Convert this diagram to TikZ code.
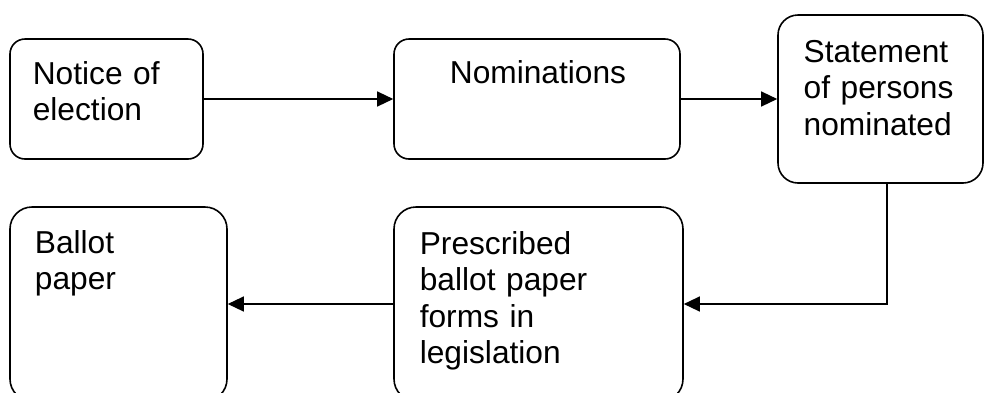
\documentclass[tikz,border=0pt]{standalone}
\usepackage{fontspec}
\setmainfont{Liberation Sans}
\usetikzlibrary{arrows.meta}
\tikzset{
  box/.style={draw, line width=1.6pt, rectangle, inner sep=0pt},
  lbl/.style={inner sep=0pt, text width=260pt, align=left, anchor=base west,
    font=\fontsize{31.7pt}{36.5pt}\selectfont},
  arr/.style={line width=1.3pt, -{Triangle[length=16pt, width=15pt]}}
}
\begin{document}
\begin{tikzpicture}[x=1pt, y=-1pt]
\useasboundingbox (0,0) rectangle (984,392);
% boxes
\node[box, rounded corners=15pt, minimum width=193pt, minimum height=120pt] (n1) at (106.5,99) {};
\node[box, rounded corners=15pt, minimum width=286pt, minimum height=120pt] (n2) at (537,99) {};
\node[box, rounded corners=20pt, minimum width=205pt, minimum height=168pt] (n3) at (880.5,99) {};
\node[box, rounded corners=22pt, minimum width=217pt, minimum height=194pt] (n4) at (118.5,304) {};
\node[box, rounded corners=22pt, minimum width=289pt, minimum height=194pt] (n5) at (538.5,304) {};
% texts
\node[lbl] (t1) at (32.6,84) {Notice of\\election};
\node[lbl, align=center, anchor=base] (t2) at (538,83) {Nominations};
\node[lbl] (t3) at (803.5,62) {Statement\\of persons\\nominated};
\node[lbl] (t4) at (34.7,253) {Ballot\\paper};
\node[lbl] (t5) at (419.6,254) {Prescribed\\ballot paper\\forms in\\legislation};
% connectors
\draw[arr] (n1.east) -- (n2.west);
\draw[arr] (n2.east) -- (n3.west);
\draw[arr] ([xshift=6.5pt]n3.south) |- (n5.east);
\draw[arr] (n5.west) -- (n4.east);
\end{tikzpicture}
\end{document}
